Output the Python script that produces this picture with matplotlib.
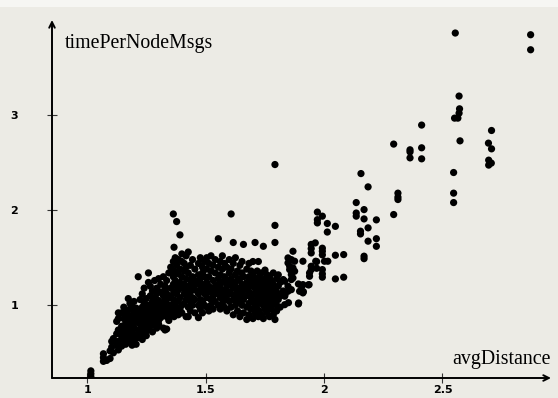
import matplotlib.pyplot as plt
import numpy as np
from matplotlib.patches import Rectangle

# dense part: avgDistance column -> timePerNodeMsgs values
cluster_cols = [
    (1.016, [0.25, 0.28, 0.31]),
    (1.069, [0.41, 0.45, 0.49]),
    (1.083, [0.42]),
    (1.097, [0.44, 0.52]),
    (1.104, [0.56, 0.62]),
    (1.111, [0.65, 0.50]),
    (1.125, [0.58, 0.83, 0.70]),
    (1.132, [0.74, 0.86, 0.92, 0.62, 0.53]),
    (1.146, [0.67, 0.92, 0.78, 0.57, 0.72]),
    (1.155, [0.63, 0.86, 0.75, 0.98]),
    (1.163, [0.68, 0.95, 0.81, 0.59, 0.88]),
    (1.174, [0.62, 0.72, 1.07, 0.90, 0.79]),
    (1.181, [1.02, 0.66, 0.84, 0.96, 0.75]),
    (1.190, [0.58, 0.71, 0.88, 0.99, 0.80]),
    (1.198, [0.93, 0.64, 0.76, 1.04, 0.85]),
    (1.207, [0.69, 0.82, 0.97, 0.59, 0.90]),
    (1.216, [1.30, 0.74, 0.86, 0.95, 0.66]),
    (1.224, [0.80, 0.92, 1.06, 0.70, 0.87]),
    (1.233, [0.76, 0.98, 0.64, 0.89, 1.12]),
    (1.241, [0.84, 0.72, 1.02, 0.93, 1.18]),
    (1.250, [0.68, 0.88, 1.07, 0.79, 0.96]),
    (1.259, [1.34, 0.85, 0.74, 1.24, 1.00, 0.92]),
    (1.267, [0.78, 0.95, 1.10, 0.83, 1.20]),
    (1.276, [0.72, 0.90, 1.04, 1.15, 0.98]),
    (1.285, [0.86, 1.08, 0.79, 1.26, 0.94]),
    (1.294, [0.76, 1.00, 0.89, 1.18, 1.12]),
    (1.302, [0.84, 1.05, 0.95, 1.28, 0.80]),
    (1.311, [0.92, 1.14, 0.87, 1.02, 1.22]),
    (1.322, [0.76, 0.98, 1.10, 0.90, 1.30]),
    (1.329, [0.74, 1.06, 0.94, 1.20, 1.16]),
    (1.336, [0.75, 0.88, 1.02, 1.26, 1.12]),
    (1.345, [0.92, 1.08, 0.84, 1.34, 0.98]),
    (1.353, [1.00, 1.18, 0.90, 1.40, 1.10]),
    (1.364, [1.96, 0.96, 1.22, 1.06, 1.46, 1.30]),
    (1.367, [1.61, 0.88, 1.14, 1.36]),
    (1.372, [1.50, 1.02, 1.26, 0.94]),
    (1.378, [1.88, 1.12, 1.42, 0.98, 1.20]),
    (1.385, [1.33, 1.05, 1.48, 0.90, 1.16]),
    (1.392, [1.74, 1.24, 1.08, 1.38, 0.96]),
    (1.400, [1.46, 1.00, 1.18, 1.30, 1.54, 0.92]),
    (1.410, [1.12, 1.36, 1.22, 1.02, 1.44]),
    (1.418, [0.88, 1.28, 1.06, 1.52, 1.16, 1.40]),
    (1.427, [0.88, 1.20, 1.34, 1.10, 1.56, 0.98]),
    (1.436, [1.26, 1.04, 1.42, 1.14, 0.94]),
    (1.445, [1.30, 1.08, 1.48, 1.20, 1.00]),
    (1.455, [0.92, 1.16, 1.38, 1.26, 1.06]),
    (1.470, [0.87, 1.12, 1.32, 1.44, 1.00, 1.22]),
    (1.478, [0.96, 1.28, 1.16, 1.50, 1.06]),
    (1.487, [1.04, 1.40, 1.22, 0.92, 1.34]),
    (1.496, [1.12, 1.46, 1.00, 1.30, 1.18]),
    (1.505, [0.98, 1.24, 1.38, 1.08, 1.50]),
    (1.514, [1.14, 1.30, 0.94, 1.44, 1.20]),
    (1.523, [1.06, 1.36, 1.18, 1.00, 1.52]),
    (1.532, [1.10, 1.26, 1.42, 0.96, 1.16]),
    (1.541, [1.20, 1.04, 1.34, 1.48, 1.12]),
    (1.554, [1.70, 1.00, 1.28, 1.14, 1.40, 1.22]),
    (1.562, [1.08, 1.32, 0.96, 1.46, 1.18]),
    (1.571, [1.24, 1.02, 1.38, 1.12, 1.52]),
    (1.580, [1.16, 0.98, 1.30, 1.06, 1.44]),
    (1.590, [1.10, 1.26, 1.40, 0.94, 1.20]),
    (1.600, [1.04, 1.34, 1.14, 1.48, 1.22]),
    (1.608, [1.96, 0.98, 1.28, 1.12, 1.38]),
    (1.617, [1.66, 1.06, 1.18, 1.44, 0.90, 1.24]),
    (1.626, [1.10, 1.32, 1.00, 1.20, 1.50]),
    (1.635, [1.14, 0.94, 1.36, 1.26, 1.04]),
    (1.645, [1.08, 1.28, 1.42, 0.88, 1.18]),
    (1.654, [1.22, 1.00, 1.34, 1.12, 1.46]),
    (1.660, [1.64, 1.16, 0.92, 1.30, 1.06]),
    (1.674, [0.85, 1.10, 1.24, 1.38, 0.98, 1.18]),
    (1.683, [1.02, 1.30, 1.14, 0.90, 1.44]),
    (1.692, [1.20, 1.08, 1.36, 0.96, 1.26]),
    (1.700, [1.12, 0.86, 1.32, 1.04, 1.46, 1.22]),
    (1.709, [1.66, 1.00, 1.18, 0.92, 1.28]),
    (1.718, [1.10, 1.36, 0.96, 1.24, 1.06]),
    (1.723, [1.46, 1.14, 0.88]),
    (1.727, [1.02, 1.30, 1.20, 0.94]),
    (1.736, [1.08, 1.16, 1.34, 0.90, 1.26]),
    (1.744, [1.62, 1.00, 1.22, 1.12, 0.86]),
    (1.751, [1.37, 1.04, 1.18, 0.96, 1.28]),
    (1.760, [1.10, 0.92, 1.24, 1.14, 1.32]),
    (1.770, [1.00, 1.20, 1.06, 0.88, 1.30]),
    (1.778, [1.16, 0.96, 1.26, 1.08]),
    (1.786, [1.34, 1.02, 1.12, 0.90, 1.22]),
    (1.793, [2.48, 1.84, 1.66, 0.85, 1.08, 1.18]),
    (1.800, [1.00, 1.28, 1.14, 0.94]),
    (1.807, [1.32, 1.06, 1.20]),
    (1.815, [1.10, 1.24, 0.98]),
    (1.828, [1.27, 1.15]),
]

# sparser points to the right
tail_x = [1.869, 1.848, 1.862, 1.876, 1.848, 1.855, 1.869, 1.855, 1.876, 1.862,
          1.869, 1.862, 1.834, 1.848, 1.862, 1.848, 1.834, 1.834, 1.835, 1.850,
          1.892, 1.892, 1.906, 1.934, 1.913, 1.911, 1.911, 1.897, 1.911, 1.893,
          1.937, 1.946, 1.939, 1.939, 1.946, 1.965, 1.969, 1.969, 1.963, 1.946,
          1.946, 1.946, 1.993, 1.993, 1.993, 2.002, 2.016, 2.048, 2.083, 1.993,
          1.993, 1.993, 2.048, 2.083, 1.972, 1.993, 1.972, 1.972, 2.014, 2.014,
          2.048,
          2.136, 2.312, 2.547, 2.294, 2.136, 2.136, 2.169, 2.169, 2.221, 2.154,
          2.154, 2.186, 2.186, 2.221, 2.221, 2.169, 2.169,
          2.554, 2.872, 2.872, 2.570, 2.572, 2.570, 2.551, 2.565, 2.412, 2.574,
          2.707, 2.694, 2.707, 2.294, 2.363, 2.363, 2.363, 2.412, 2.412, 2.695,
          2.706, 2.695, 2.156, 2.186, 2.312, 2.312, 2.547, 2.547]
tail_y = [1.568, 1.498, 1.480, 1.463, 1.445, 1.410, 1.393, 1.375, 1.358, 1.322,
          1.287, 1.270, 1.253, 1.200, 1.164, 1.147, 1.095, 1.006, 1.108, 1.027,
          1.014, 1.224, 1.196, 1.214, 1.143, 1.463, 1.217, 1.147, 1.130, 1.024,
          1.217, 1.410, 1.340, 1.305, 1.375, 1.463, 1.459, 1.389, 1.656, 1.640,
          1.596, 1.550, 1.600, 1.568, 1.530, 1.463, 1.463, 1.526, 1.533, 1.375,
          1.330, 1.295, 1.277, 1.295, 1.980, 1.937, 1.900, 1.866, 1.860, 1.770,
          1.830,
          2.080, 2.112, 2.080, 1.954, 1.970, 1.937, 2.006, 1.908, 1.898, 1.779,
          1.750, 1.814, 1.674, 1.700, 1.620, 1.516, 1.490,
          3.863, 3.845, 3.687, 3.200, 3.066, 3.020, 2.968, 2.968, 2.895, 2.729,
          2.838, 2.705, 2.645, 2.695, 2.635, 2.613, 2.550, 2.656, 2.540, 2.526,
          2.495, 2.474, 2.385, 2.245, 2.179, 2.137, 2.396, 2.179]

x_ticks = [1, 1.5, 2, 2.5]
y_ticks = [1, 2, 3]

xs = [c[0] for c in cluster_cols for _ in c[1]] + tail_x
ys = [v for c in cluster_cols for v in c[1]] + tail_y

bg = '#ecebe5'
fig = plt.figure(figsize=(5.58, 3.98), dpi=100, facecolor=bg)
fig.patches.append(Rectangle((0, 1 - 7 / 398), 1, 7 / 398, transform=fig.transFigure,
                             facecolor='#f6f6f3', edgecolor='none', zorder=0))
ax = fig.add_axes([52 / 558, 20 / 398, 499 / 558, 358 / 398])
ax.set_facecolor('none')

ax.scatter(xs, ys, s=27, color='black', edgecolors='none', zorder=3)

ax.set_xlim(0.852, 2.958)
ax.set_ylim(0.235, 4.0)
for s in ax.spines.values():
    s.set_visible(False)

# axis arrows
ax.annotate('', xy=(1, 0), xytext=(0, 0), xycoords='axes fraction',
            arrowprops=dict(arrowstyle='->', color='black', lw=1.4,
                            shrinkA=0, shrinkB=0, mutation_scale=10))
ax.annotate('', xy=(0, 1), xytext=(0, 0), xycoords='axes fraction',
            arrowprops=dict(arrowstyle='->', color='black', lw=1.4,
                            shrinkA=0, shrinkB=0, mutation_scale=10))

ax.set_xticks(x_ticks)
ax.set_xticklabels(['1', '1.5', '2', '2.5'])
ax.set_yticks(y_ticks)
ax.set_yticklabels(['1', '2', '3'])
ax.tick_params(axis='both', direction='inout', length=7, width=0.8, color='#333333',
               labelsize=8)
ax.tick_params(axis='x', pad=1.5)
ax.tick_params(axis='y', pad=21)
for t in ax.get_xticklabels() + ax.get_yticklabels():
    t.set_fontweight('bold')

fig.text(65 / 558, 1 - 48 / 398, 'timePerNodeMsgs', family='Liberation Serif',
         fontsize=14.3, va='baseline', ha='left')
fig.text(551 / 558, 1 - 364 / 398, 'avgDistance', family='Liberation Serif',
         fontsize=14.3, va='baseline', ha='right')

fig.savefig('out.png', dpi=100, facecolor=bg)
